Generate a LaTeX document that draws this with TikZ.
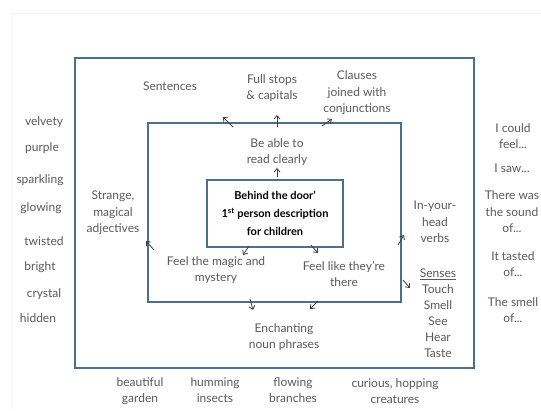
\documentclass[tikz,border=0pt]{standalone}
\usepackage{fontspec}
\setmainfont{Lato}
\usetikzlibrary{arrows.meta}
\definecolor{boxblue}{HTML}{4D6F8E}
\definecolor{hand}{HTML}{5A5A5A}
\tikzset{
  frame/.style={draw=boxblue, line width=1.8pt},
  lbl/.style={text=hand, font=\fontsize{12}{16.5}\selectfont, align=center, inner sep=0pt},
  core/.style={text=black, font=\bfseries\fontsize{11}{18}\selectfont, align=center, inner sep=0pt},
  arr/.style={draw=hand!70!black, line width=0.8pt, -{Straight Barb[length=3.5pt,width=6pt]}}
}
\begin{document}
\begin{tikzpicture}[x=1pt,y=-1pt]
\useasboundingbox (0,0) rectangle (541,410);
\fill[white] (0,0) rectangle (541,410);
\draw[black!4, line width=1pt] (11,410) -- (11,13) -- (541,13);
% frames
\draw[frame] (75,58) rectangle (474,368);
\draw[frame] (148,123) rectangle (401,302);
\node[frame, minimum width=136pt, minimum height=67pt, inner sep=0pt] (core) at (275,213.5) {};
\node[core] (coretext) at (275,213) {Behind the door'\\1\textsuperscript{st} person description\\for children};
% labels inside outer frame
\node[lbl] (sent) at (170,86) {Sentences};
\node[lbl] (full) at (272,88) {Full stops\\\& capitals};
\node[lbl] (claus) at (357,93) {Clauses\\joined with\\conjunctions};
\node[lbl] (read) at (277,152) {Be able to\\read clearly};
\node[lbl] (adj) at (113,213) {Strange,\\magical\\adjectives};
\node[lbl] (magic) at (216,270) {Feel the magic and\\mystery};
\node[lbl] (there) at (344,274) {Feel like they're\\there};
\node[lbl] (noun) at (284,337) {Enchanting\\noun phrases};
\node[lbl] (verbs) at (435,222) {In-your-\\head\\verbs};
\node[lbl, font=\fontsize{12}{16}\selectfont] (senses) at (438,313) {\underline{Senses}\\Touch\\Smell\\See\\Hear\\Taste};
% left column
\node[lbl] (w1) at (44,122) {velvety};
\node[lbl] (w2) at (42,148) {purple};
\node[lbl] (w3) at (40,180) {sparkling};
\node[lbl] (w4) at (41,208) {glowing};
\node[lbl] (w5) at (44,241) {twisted};
\node[lbl] (w6) at (40,267) {bright};
\node[lbl] (w7) at (44,294) {crystal};
\node[lbl] (w8) at (38,318) {hidden};
% right column
\node[lbl] (r1) at (513,136) {I could\\feel...};
\node[lbl] (r2) at (512,168) {I saw...};
\node[lbl] (r3) at (512,212) {There was\\the sound\\of...};
\node[lbl] (r4) at (513,264) {It tasted\\of...};
\node[lbl] (r5) at (513,310) {The smell\\of...};
% bottom row
\node[lbl] (b1) at (140,391) {beautiful\\garden};
\node[lbl] (b2) at (215,390) {humming\\insects};
\node[lbl] (b3) at (293,390) {flowing\\branches};
\node[lbl] (b4) at (395,391) {curious, hopping\\creatures};
% arrow coordinates
\coordinate (a1s) at (233,127); \coordinate (a1e) at (223,117);
\coordinate (a2s) at (277,127); \coordinate (a2e) at (277,115);
\coordinate (a3s) at (322,126); \coordinate (a3e) at (332,119);
\coordinate (a4s) at (277,177); \coordinate (a4e) at (277,168);
\coordinate (a5s) at (154,250); \coordinate (a5e) at (146,241);
\coordinate (a6s) at (249,246); \coordinate (a6e) at (243,255);
\coordinate (a7s) at (311,245); \coordinate (a7e) at (318,253);
\coordinate (a8s) at (250,299); \coordinate (a8e) at (253,310);
\coordinate (a9s) at (318,301); \coordinate (a9e) at (310,309);
\coordinate (a10s) at (398,245); \coordinate (a10e) at (404,235);
\coordinate (a11s) at (403,280); \coordinate (a11e) at (410,288);
\foreach \i in {1,...,11} {\draw[arr] (a\i s) -- (a\i e);}
\end{tikzpicture}
\end{document}
